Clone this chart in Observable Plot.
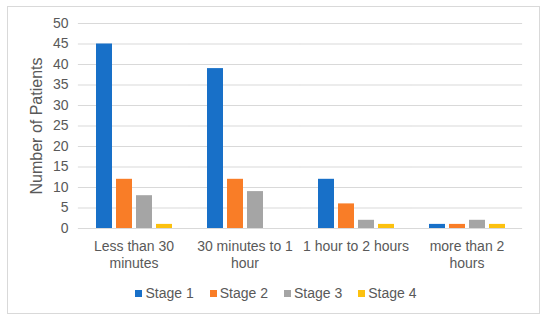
<!DOCTYPE html>
<html>
<head>
<meta charset="utf-8">
<script src="https://cdn.jsdelivr.net/npm/d3@7"></script>
<script src="https://cdn.jsdelivr.net/npm/@observablehq/plot@0.6"></script>
<style>
  html, body { margin: 0; padding: 0; background: #fff; }
  body { width: 550px; height: 324px; position: relative; overflow: hidden; font-family: "Liberation Sans", Arial, sans-serif; }
  #frame { position: absolute; left: 7px; top: 6px; width: 533px; height: 308px; border: 1px solid #d9d9d9; box-sizing: border-box; }
  #chart { position: absolute; left: 0; top: 0; }
  #legend { position: absolute; left: 0; top: 285px; width: 552px; display: flex; justify-content: center; gap: 16px; font-size: 14px; color: #595959; }
  .item { display: flex; align-items: center; }
  .sw { width: 7px; height: 7px; margin-right: 3px; }
</style>
</head>
<body>
<div id="frame"></div>
<div id="chart"></div>
<div id="legend"></div>
<script>
const categories = ["Less than 30 minutes", "30 minutes to 1 hour", "1 hour to 2 hours", "more than 2 hours"];
const tickLabels = ["Less than 30\nminutes", "30 minutes to 1\nhour", "1 hour to 2 hours", "more than 2\nhours"];
const stages = ["Stage 1", "Stage 2", "Stage 3", "Stage 4"];
const stage1 = [45, 39, 12, 1];
const stage2 = [12, 12, 6, 1];
const stage3 = [8, 9, 2, 2];
const stage4 = [1, 0, 1, 1];
const yTicks = [0, 5, 10, 15, 20, 25, 30, 35, 40, 45, 50];
const colors = ["#1870c8", "#f97d27", "#a5a5a5", "#fcc10f"];
const yLabel = "Number of Patients";

const series = [stage1, stage2, stage3, stage4];
const data = categories.flatMap((c, i) => stages.map((s, j) => ({category: c, stage: s, value: series[j][i]})));

const font = "'Liberation Sans', Arial, sans-serif";
const width = 550, marginLeft = 78, marginRight = 27;
const fxPad = 0.27;
const fxStep = (width - marginLeft - marginRight) / categories.length;
const halfGap = (fxStep * fxPad) / 2;
const gridExtend = -halfGap - 0.1;

const chart = Plot.plot({
  width,
  height: 275,
  marginLeft,
  marginRight,
  marginTop: 23,
  marginBottom: 47,
  style: {fontFamily: font, fontSize: "14px", color: "#595959", background: "transparent"},
  fx: {domain: categories, paddingInner: fxPad, paddingOuter: fxPad / 2, label: null},
  x: {domain: stages, paddingInner: 0.2, paddingOuter: 0.1, axis: null},
  y: {domain: [0, 50]},
  color: {domain: stages, range: colors},
  marks: [
    Plot.ruleY(yTicks, {stroke: "#d9d9d9", strokeWidth: 1, insetLeft: gridExtend, insetRight: gridExtend}),
    Plot.barY(data, {fx: "category", x: "stage", y: "value", fill: "stage"}),
    Plot.axisY({ticks: yTicks, tickSize: 0, tickPadding: 10 + halfGap, fontSize: 14, label: null}),
    Plot.axisFx({anchor: "bottom", tickSize: 0, tickPadding: 11, fontSize: 14, lineHeight: 1.2, label: null,
      tickFormat: c => tickLabels[categories.indexOf(c)]}),
    Plot.text([yLabel], {frameAnchor: "left", textAnchor: "middle", rotate: -90, dx: -42 - halfGap, fontSize: 16, fill: "#595959", facetAnchor: "left"})
  ]
});
document.getElementById("chart").appendChild(chart);

const legend = document.getElementById("legend");
stages.forEach((s, i) => {
  const item = document.createElement("div");
  item.className = "item";
  const sw = document.createElement("span");
  sw.className = "sw";
  sw.style.background = colors[i];
  const t = document.createElement("span");
  t.textContent = s;
  item.appendChild(sw);
  item.appendChild(t);
  legend.appendChild(item);
});
</script>
</body>
</html>
